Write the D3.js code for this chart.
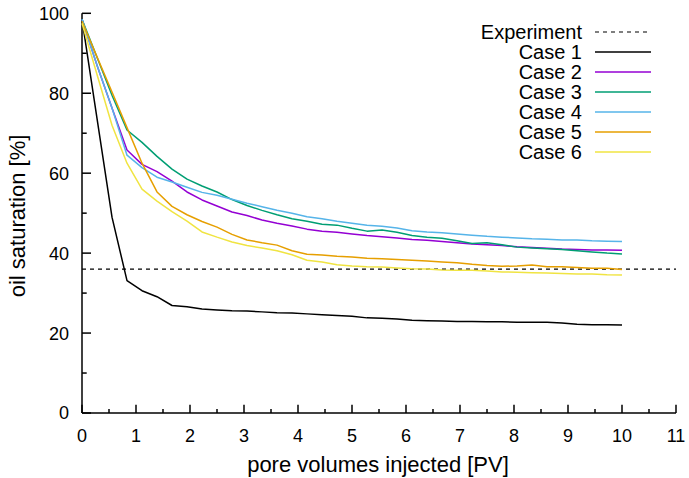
<!DOCTYPE html>
<html><head><meta charset="utf-8">
<script src="https://cdn.jsdelivr.net/npm/d3@7"></script>
<style>body{margin:0;background:#fff}svg{display:block}text{font-family:"Liberation Sans",Arial,sans-serif;fill:#000}</style>
</head><body><div id="c"></div>
<script>
const N = 36; // samples 0..10 PV
const pv = d3.range(N + 1).map(i => i * 10 / N);
const experiment = 36;
const seriesNames = ["Case 1","Case 2","Case 3","Case 4","Case 5","Case 6"];
const colors = ["#000000","#9400d3","#009e73","#56b4e9","#e69f00","#f0e442"];
const case1 = [98.5,73.7,49,33.1,30.6,29.1,26.9,26.6,26.0,25.8,25.6,25.5,25.3,25.1,25.0,24.8,24.6,24.4,24.2,23.8,23.7,23.5,23.2,23.1,23.0,22.9,22.9,22.8,22.8,22.7,22.7,22.7,22.5,22.2,22.1,22.1,22.0];
const case2 = [98.5,87,76.3,65.8,62.2,60.4,58.0,55.3,53.3,51.8,50.3,49.4,48.3,47.5,46.8,46.0,45.5,45.2,44.8,44.4,44.1,43.8,43.4,43.2,42.9,42.6,42.3,42.1,41.9,41.6,41.4,41.2,41.0,40.9,40.8,40.8,40.7];
const case3 = [98.5,89,79.5,70.8,67.7,64.2,61.0,58.5,56.8,55.3,53.4,51.9,50.7,49.6,48.6,48.0,47.2,47.0,46.2,45.5,45.8,45.2,44.4,44.0,43.7,43.1,42.4,42.6,42.1,41.5,41.3,41.1,40.9,40.6,40.3,40.0,39.8];
const case4 = [98.5,87,76.3,64.5,61.4,59.0,57.8,56.5,55.2,54.5,53.5,52.5,51.6,50.7,50.0,49.1,48.6,48.0,47.5,47.0,46.7,46.3,45.6,45.3,45.1,44.8,44.5,44.2,44.0,43.8,43.6,43.5,43.3,43.3,43.1,43.0,42.9];
const case5 = [98,89.1,80.3,71.4,62.5,55.3,51.7,49.6,47.9,46.5,44.7,43.3,42.6,42.0,40.6,39.7,39.5,39.2,39.0,38.7,38.6,38.4,38.2,38.0,37.8,37.6,37.2,36.9,36.7,36.8,37.0,36.6,36.6,36.4,36.2,36.2,35.9];
const case6 = [97.5,84.7,72,62.5,56.0,53.0,50.4,48.0,45.3,44.0,42.8,41.9,41.3,40.6,39.6,38.2,37.8,37.1,36.8,36.6,36.5,36.3,36.1,36.0,35.8,35.7,35.7,35.5,35.3,35.2,35.1,35.0,34.9,34.8,34.8,34.6,34.5];
const seriesValues = [case1,case2,case3,case4,case5,case6];
const xTicks = d3.range(0, 12);
const yTicks = [0,20,40,60,80,100];

const W = 689, H = 478;
const m = {l:82, r:13, t:13.3, b:65};
const svg = d3.select("#c").append("svg").attr("width",W).attr("height",H);
const x = d3.scaleLinear().domain([0,11]).range([m.l, W-m.r]);
const y = d3.scaleLinear().domain([0,100]).range([H-m.b, m.t]);
const tickFs = 18, labelFs = 22, legFs = 20;

// axes lines
const g = svg.append("g").attr("stroke","#000").attr("stroke-width",1.5).attr("fill","none");
g.append("line").attr("x1",x(0)).attr("x2",x(11)).attr("y1",y(0)).attr("y2",y(0));
g.append("line").attr("x1",x(0)).attr("x2",x(0)).attr("y1",y(0)).attr("y2",y(100));
// y ticks (inward)
d3.range(0,101,10).forEach(v=>{
  const len = v%20===0 ? 9 : 4.7;
  g.append("line").attr("x1",x(0)).attr("x2",x(0)+len).attr("y1",y(v)).attr("y2",y(v));
});
// x ticks (inward)
d3.range(0,11.01,0.5).forEach(v=>{
  const len = Math.abs(v-Math.round(v))<1e-6 ? 8.3 : 4;
  g.append("line").attr("x1",x(v)).attr("x2",x(v)).attr("y1",y(0)).attr("y2",y(0)-len);
});
svg.append("g").selectAll("text").data(yTicks).join("text")
  .attr("x",x(0)-13).attr("y",d=>y(d)).attr("dy","0.36em").attr("text-anchor","end")
  .attr("font-size",tickFs).text(d=>d);
svg.append("g").selectAll("text").data(xTicks).join("text")
  .attr("x",d=>x(d)).attr("y",y(0)+23).attr("dy","0.36em").attr("text-anchor","middle")
  .attr("font-size",tickFs).text(d=>d);
svg.append("text").attr("transform",`translate(25,216) rotate(-90)`)
  .attr("text-anchor","middle").attr("font-size",labelFs).text("oil saturation [%]");
svg.append("text").attr("x",378).attr("y",471.5)
  .attr("text-anchor","middle").attr("font-size",labelFs).text("pore volumes injected [PV]");

// experiment line
svg.append("line").attr("x1",x(0)).attr("x2",x(11)).attr("y1",y(experiment)).attr("y2",y(experiment))
  .attr("stroke","#000").attr("stroke-width",1.2).attr("stroke-dasharray","4,4");

const line = d3.line().x((d,i)=>x(pv[i])).y(d=>y(d));
seriesValues.forEach((vals,k)=>{
  svg.append("path").datum(vals).attr("d",line).attr("fill","none")
    .attr("stroke",colors[k]).attr("stroke-width",1.5).attr("stroke-linejoin","round");
});

// legend
const lx = 582, ly0 = 32, dy = 20;
const leg = svg.append("g");
const legNames = ["Experiment"].concat(seriesNames);
legNames.forEach((nm,i)=>{
  const yy = ly0 + i*dy;
  leg.append("text").attr("x",lx).attr("y",yy).attr("dy","0.36em").attr("text-anchor","end")
    .attr("font-size",legFs).text(nm);
  const ln = leg.append("line").attr("x1",595).attr("x2",651).attr("y1",yy).attr("y2",yy)
    .attr("stroke", i===0 ? "#000" : colors[i-1]).attr("stroke-width", i===0?1.2:1.5);
  if(i===0) ln.attr("stroke-dasharray","4,4");
});
</script></body></html>
